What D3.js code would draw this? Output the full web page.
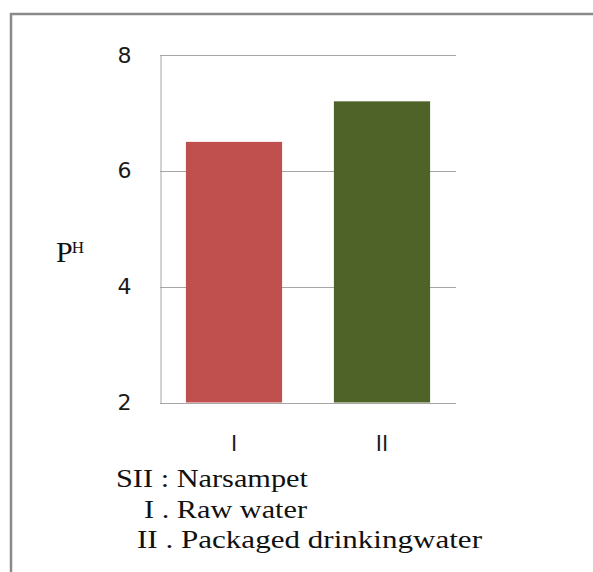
<!DOCTYPE html>
<html>
<head>
<meta charset="utf-8">
<script src="https://cdn.jsdelivr.net/npm/d3@7"></script>
<style>
  html, body { margin: 0; padding: 0; background: #fff; }
</style>
</head>
<body>
<div id="chart"></div>
<script>
const categories = ['I', 'II'];
const phValues = [6.5, 7.2];
const barColors = ['#C0504D', '#4F6228'];
const yTicks = [2, 4, 6, 8];
const noteLines = ['SII : Narsampet', 'I . Raw water', 'II . Packaged drinkingwater'];

const config = {
  width: 593,
  height: 572,
  margin: { top: 55, right: 137, bottom: 169.5, left: 160 }
};
const serif = "'Liberation Serif', 'Times New Roman', serif";
const sans = "'DejaVu Sans', Verdana, sans-serif";

const svg = d3.select('#chart')
  .append('svg')
  .attr('width', config.width)
  .attr('height', config.height);

// outer frame (only top and left edges fall inside the picture)
svg.append('rect')
  .attr('x', 11)
  .attr('y', 14)
  .attr('width', 700)
  .attr('height', 700)
  .attr('fill', 'none')
  .attr('stroke', '#8a8a8a')
  .attr('stroke-width', 2.5);

const x = d3.scaleBand()
  .domain(categories)
  .range([config.margin.left, config.width - config.margin.right])
  .paddingInner(0.35)
  .paddingOuter(0.175);

const y = d3.scaleLinear()
  .domain([2, 8])
  .range([config.height - config.margin.bottom, config.margin.top]);

// gridlines
svg.append('g')
  .selectAll('line')
  .data(yTicks)
  .join('line')
  .attr('x1', config.margin.left)
  .attr('x2', config.width - config.margin.right)
  .attr('y1', d => Math.round(y(d)) + 0.5)
  .attr('y2', d => Math.round(y(d)) + 0.5)
  .attr('stroke', '#a6a6a6')
  .attr('stroke-width', 1);

// bars
svg.append('g')
  .selectAll('rect')
  .data(phValues)
  .join('rect')
  .attr('x', (d, i) => x(categories[i]))
  .attr('y', d => y(d))
  .attr('width', x.bandwidth())
  .attr('height', d => y(2) - y(d))
  .attr('fill', (d, i) => barColors[i]);

// y axis
const yAxis = svg.append('g')
  .attr('transform', `translate(${config.margin.left + 0.5},0)`)
  .call(d3.axisLeft(y).tickValues(yTicks).tickSize(0).tickPadding(29).tickFormat(d3.format('d')));
yAxis.select('.domain').attr('stroke', '#a6a6a6');
yAxis.selectAll('text')
  .attr('font-family', sans)
  .attr('font-size', 22)
  .attr('fill', '#1a1a1a');

// x axis
const xAxis = svg.append('g')
  .attr('transform', `translate(0,${config.height - config.margin.bottom})`)
  .call(d3.axisBottom(x).tickSize(0).tickPadding(34));
xAxis.select('.domain').remove();
xAxis.selectAll('text')
  .attr('font-family', sans)
  .attr('font-size', 21)
  .attr('fill', '#1a1a1a');

// P^H label
const yLabel = svg.append('text')
  .attr('x', 56)
  .attr('y', 262)
  .attr('font-family', serif)
  .attr('fill', '#111');
yLabel.append('tspan').attr('font-size', 30).text('P');
yLabel.append('tspan').attr('font-size', 17).attr('dx', -1).attr('dy', -9).text('H');

// notes under the chart
const noteX = [116, 144, 137];
const noteW = [192, 163, 345];
svg.append('g')
  .selectAll('text')
  .data(noteLines)
  .join('text')
  .attr('x', (d, i) => noteX[i])
  .attr('y', (d, i) => 487 + i * 30.7)
  .attr('font-family', serif)
  .attr('font-size', 26)
  .attr('fill', '#111')
  .attr('textLength', (d, i) => noteW[i])
  .attr('lengthAdjust', 'spacingAndGlyphs')
  .text(d => d);
</script>
</body>
</html>
